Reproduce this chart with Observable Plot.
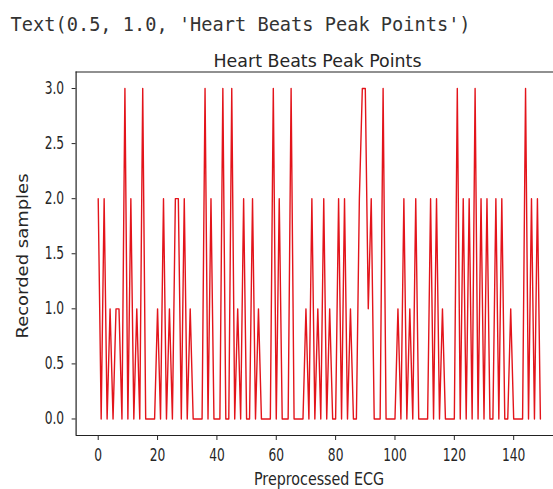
<!DOCTYPE html>
<html><head><meta charset="utf-8">
<script src="https://cdn.jsdelivr.net/npm/d3@7"></script>
<script src="https://cdn.jsdelivr.net/npm/@observablehq/plot@0.6"></script>
<style>
html,body{margin:0;padding:0;background:#fff;}
#wrap{width:553px;height:489px;overflow:hidden;position:relative;background:#fff;}
</style></head><body><div id="wrap"></div>
<script>
// Recorded peak counts per preprocessed ECG sample (index = position)
const samples = [
  2,0,2,0,1,0,1,1,0,3,
  0,2,0,1,0,3,0,0,0,0,
  1,0,2,0,1,0,2,2,0,2,
  0,1,0,0,0,0,3,0,2,0,
  0,0,3,0,0,3,0,1,0,2,
  0,0,2,0,1,0,0,0,0,3,
  0,2,0,0,0,3,0,0,0,0,
  1,0,2,0,1,0,2,0,1,0,
  0,2,0,2,0,1,0,0,2,3,
  3,1,2,0,0,0,3,0,0,0,
  0,1,0,2,0,1,0,2,0,0,
  0,0,2,0,2,0,1,0,0,0,
  0,3,0,2,0,2,0,3,0,2,
  0,2,0,0,2,0,2,0,0,1,
  0,0,0,0,3,0,2,0,2,0
];
const sampleIndex = samples.map((_, i) => i);
const xTicks = [0, 20, 40, 60, 80, 100, 120, 140];
const yTicks = [0, 0.5, 1, 1.5, 2, 2.5, 3];
const headerText = "Text(0.5, 1.0, 'Heart Beats Peak Points')";
const titleText = "Heart Beats Peak Points";
const xLabelText = "Preprocessed ECG";
const yLabelText = "Recorded samples";

const data = sampleIndex.map(i => ({x: i, y: samples[i]}));
const n = samples.length;
const xpad = (n - 1) * 0.05;

const chart = Plot.plot({
  width: 553,
  height: 489,
  marginLeft: 75.6,
  marginRight: 0,
  marginTop: 71.5,
  marginBottom: 54,
  style: {fontFamily: "DejaVu Sans", fontSize: "17px", color: "#262626", background: "#fff"},
  x: {domain: [-xpad, n - 1 + xpad], range: [75.6, 562]},
  y: {domain: [-0.15, 3.15]},
  marks: [
    Plot.line(data, {x: "x", y: "y", stroke: "#e3141b", strokeWidth: 1.4}),
    Plot.ruleX([-xpad], {stroke: "#222", strokeWidth: 1.2}),
    Plot.ruleY([-0.15, 3.15], {stroke: "#222", strokeWidth: 1.2}),
    Plot.axisX({ticks: xTicks, tickSize: 5, tickPadding: 8, label: null, fontSize: 17}),
    Plot.axisY({ticks: yTicks, tickFormat: d3.format(".1f"), tickSize: 4, tickPadding: 8, label: null, fontSize: 17})
  ]
});

document.getElementById("wrap").appendChild(chart);
const svg = d3.select(chart);

svg.selectAll('g[aria-label="x-axis tick label"] text, g[aria-label="y-axis tick label"] text').each(function() {
  const w = this.getComputedTextLength();
  this.setAttribute("textLength", w * 0.72);
  this.setAttribute("lengthAdjust", "spacingAndGlyphs");
});

const extra = svg.append("g").attr("fill", "#262626");
extra.append("text")
  .attr("x", 10.6).attr("y", 31).attr("text-anchor", "start")
  .attr("font-family", "DejaVu Sans Mono").attr("font-size", 20)
  .attr("textLength", 460).attr("lengthAdjust", "spacingAndGlyphs")
  .attr("fill", "#333")
  .text(headerText);
extra.append("text")
  .attr("x", 317.5).attr("y", 67).attr("text-anchor", "middle")
  .attr("font-family", "DejaVu Sans").attr("font-size", 18)
  .attr("textLength", 208).attr("lengthAdjust", "spacingAndGlyphs")
  .text(titleText);
extra.append("text")
  .attr("x", 319).attr("y", 485).attr("text-anchor", "middle")
  .attr("font-family", "DejaVu Sans").attr("font-size", 17)
  .attr("textLength", 130).attr("lengthAdjust", "spacingAndGlyphs")
  .text(xLabelText);
extra.append("text")
  .attr("transform", "translate(28,256) rotate(-90)").attr("text-anchor", "middle")
  .attr("font-family", "DejaVu Sans").attr("font-size", 15)
  .attr("textLength", 165).attr("lengthAdjust", "spacingAndGlyphs")
  .text(yLabelText);
</script></body></html>
